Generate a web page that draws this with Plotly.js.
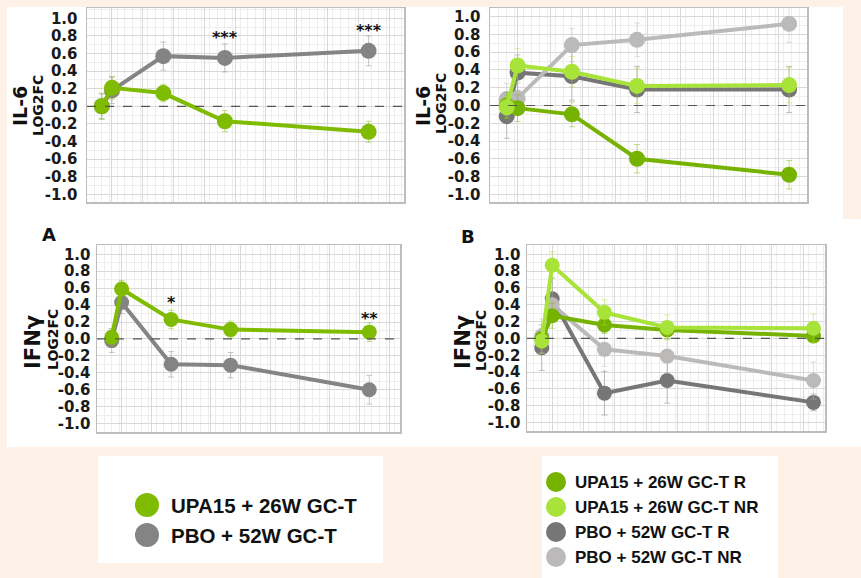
<!DOCTYPE html>
<html>
<head>
<meta charset="utf-8">
<script src="https://cdn.plot.ly/plotly-3.0.1.min.js"></script>
<style>html,body{margin:0;padding:0;background:#fdf1e8;}#chart{width:861px;height:578px;}</style>
</head>
<body>
<div id="chart"></div>
<script>
// ---------- DATA ----------
const weeks = [0, 2, 12, 24, 52];

// Panel A-top: IL-6
const il6Upa = [0.0, 0.21, 0.15, -0.17, -0.29];
const il6UpaErr = [0.15, 0.13, 0.10, 0.12, 0.12];
const il6Pbo = [0.0, 0.18, 0.57, 0.55, 0.63];
const il6PboErr = [0.14, 0.15, 0.16, 0.16, 0.17];

// Panel B-top: IL-6 by response
const il6UpaR = [0.0, -0.03, -0.10, -0.60, -0.78];
const il6UpaRErr = [0.15, 0.15, 0.14, 0.16, 0.16];
const il6UpaNR = [-0.02, 0.45, 0.38, 0.22, 0.23];
const il6UpaNRErr = [0.12, 0.19, 0.17, 0.20, 0.20];
const il6PboR = [-0.12, 0.37, 0.33, 0.18, 0.18];
const il6PboRErr = [0.25, 0.20, 0.27, 0.26, 0.26];
const il6PboNR = [0.07, 0.08, 0.68, 0.74, 0.92];
const il6PboNRErr = [0.18, 0.17, 0.19, 0.19, 0.21];

// Panel A-bottom: IFNγ
const ifnUpa = [0.02, 0.59, 0.23, 0.11, 0.08];
const ifnUpaErr = [0.10, 0.10, 0.11, 0.10, 0.11];
const ifnPbo = [-0.02, 0.43, -0.30, -0.31, -0.60];
const ifnPboErr = [0.14, 0.13, 0.15, 0.15, 0.17];

// Panel B-bottom: IFNγ by response
const ifnUpaR = [0.0, 0.27, 0.16, 0.10, 0.03];
const ifnUpaRErr = [0.12, 0.15, 0.10, 0.10, 0.08];
const ifnUpaNR = [-0.03, 0.87, 0.31, 0.13, 0.12];
const ifnUpaNRErr = [0.15, 0.16, 0.15, 0.15, 0.17];
const ifnPboR = [-0.11, 0.47, -0.65, -0.50, -0.76];
const ifnPboRErr = [0.27, 0.25, 0.26, 0.27, 0.10];
const ifnPboNR = [0.03, 0.40, -0.13, -0.21, -0.50];
const ifnPboNRErr = [0.20, 0.20, 0.20, 0.20, 0.22];

// Significance marks
const il6SigWeeks = [24, 52];
const il6SigLabels = ['***', '***'];
const ifnSigWeeks = [12, 52];
const ifnSigLabels = ['*', '**'];

// Tick labels
const yTickVals = [-1.0, -0.8, -0.6, -0.4, -0.2, 0.0, 0.2, 0.4, 0.6, 0.8, 1.0];
const yTickText = ['-1.0', '-0.8', '-0.6', '-0.4', '-0.2', '0.0', '0.2', '0.4', '0.6', '0.8', '1.0'];

const legendA = ['UPA15 + 26W GC-T', 'PBO + 52W GC-T'];
const legendB = ['UPA15 + 26W GC-T R', 'UPA15 + 26W GC-T NR', 'PBO + 52W GC-T R', 'PBO + 52W GC-T NR'];

// ---------- STYLE ----------
const W = 861, H = 578;
const px = v => v / W;
const py = v => 1 - v / H;
const b = t => '<b>' + t + '</b>';

const C = {
  upa: '#7fbb00', pbo: '#848484',
  upaR: '#76b300', upaNR: '#a8e33a', pboR: '#767676', pboNR: '#bcb9b9'
};
function alpha(hex, a) {
  const r = parseInt(hex.slice(1, 3), 16), g = parseInt(hex.slice(3, 5), 16), bl = parseInt(hex.slice(5, 7), 16);
  return `rgba(${r},${g},${bl},${a})`;
}

function series(xa, ya, y, err, color, msize) {
  return {
    x: weeks, y: y, xaxis: xa, yaxis: ya, type: 'scatter', mode: 'lines+markers',
    line: {color: color, width: 4},
    marker: {color: color, size: msize},
    error_y: {type: 'data', array: err, visible: true, color: alpha(color, 0.45), thickness: 1, width: 3},
    showlegend: false, hoverinfo: 'skip'
  };
}

const traces = [
  series('x', 'y', il6Pbo, il6PboErr, C.pbo, 16),
  series('x', 'y', il6Upa, il6UpaErr, C.upa, 16),
  series('x2', 'y2', il6PboR, il6PboRErr, C.pboR, 16),
  series('x2', 'y2', il6PboNR, il6PboNRErr, C.pboNR, 16),
  series('x2', 'y2', il6UpaR, il6UpaRErr, C.upaR, 16),
  series('x2', 'y2', il6UpaNR, il6UpaNRErr, C.upaNR, 16),
  series('x3', 'y3', ifnPbo, ifnPboErr, C.pbo, 15),
  series('x3', 'y3', ifnUpa, ifnUpaErr, C.upa, 15),
  series('x4', 'y4', ifnPboR, ifnPboRErr, C.pboR, 15),
  series('x4', 'y4', ifnPboNR, ifnPboNRErr, C.pboNR, 15),
  series('x4', 'y4', ifnUpaR, ifnUpaRErr, C.upaR, 15),
  series('x4', 'y4', ifnUpaNR, ifnUpaNRErr, C.upaNR, 15)
];

const tickFont = {family: 'DejaVu Sans', size: 15, color: '#1a1a1a'};

function xAx(l, r, range, anchor) {
  return {
    domain: [px(l), px(r)], range: range, anchor: anchor,
    showticklabels: false, ticks: '', zeroline: false,
    showgrid: true, gridcolor: '#d9d9d9', gridwidth: 1, dtick: 6, tick0: 2,
    minor: {showgrid: true, dtick: 1.5, gridcolor: '#eeeeee', gridwidth: 1},
    showline: true, mirror: true, linecolor: '#bdbdbd', linewidth: 1.5, fixedrange: true
  };
}
function yAx(top, bot, range, anchor, standoff) {
  return {
    domain: [py(bot), py(top)], range: range, anchor: anchor,
    tickmode: 'array', tickvals: yTickVals, ticktext: yTickText.map(b),
    tickfont: tickFont, ticks: 'outside', ticklen: standoff, tickcolor: 'rgba(0,0,0,0)',
    zeroline: false, showgrid: true, gridcolor: '#d9d9d9', gridwidth: 1,
    minor: {showgrid: true, dtick: 0.1, tick0: 0, gridcolor: '#eeeeee', gridwidth: 1},
    showline: true, mirror: true, linecolor: '#bdbdbd', linewidth: 1.5, fixedrange: true
  };
}

const layout = {
  width: W, height: H,
  margin: {l: 0, r: 0, t: 0, b: 0},
  paper_bgcolor: '#fdf1e8', plot_bgcolor: '#ffffff',
  showlegend: false,
  xaxis: xAx(87, 404, [-2.87, 58.9], 'y'),
  yaxis: yAx(8, 202, [-1.088, 1.117], 'x', 5),
  xaxis2: xAx(490, 807, [-3.08, 55.3], 'y2'),
  yaxis2: yAx(8, 202, [-1.087, 1.098], 'x2', 5),
  xaxis3: xAx(97, 400, [-2.97, 58.2], 'y3'),
  yaxis3: yAx(245, 432, [-1.10, 1.11], 'x3', 2),
  xaxis4: xAx(527, 825, [-2.82, 54.2], 'y4'),
  yaxis4: yAx(245, 431, [-1.10, 1.11], 'x4', 2),
  shapes: [],
  annotations: []
};

function rect(x0, y0, x1, y1, fill) {
  return {type: 'rect', xref: 'paper', yref: 'paper', x0: px(x0), x1: px(x1), y0: py(y1), y1: py(y0),
    fillcolor: fill, line: {width: 0}, layer: 'below'};
}
layout.shapes.push(rect(7, 7, 843, 219, '#ffffff'));
layout.shapes.push(rect(7, 219, 861, 447, '#ffffff'));
layout.shapes.push(rect(98, 456, 383, 563, '#ffffff'));
layout.shapes.push(rect(542, 456, 778, 578, '#ffffff'));

['', '2', '3', '4'].forEach(s => {
  layout.shapes.push({type: 'line', xref: 'x' + s + ' domain', yref: 'y' + s, x0: 0, x1: 1, y0: 0, y1: 0,
    line: {color: '#555555', width: 1.2, dash: 'dash'}, layer: 'above'});
});

function vText(text, x, y, size) {
  return {xref: 'paper', yref: 'paper', x: px(x), y: py(y), text: b(text), showarrow: false, textangle: -90,
    xanchor: 'center', yanchor: 'middle', font: {family: 'DejaVu Sans', size: size, color: '#111'}};
}
layout.annotations.push(vText('IL-6', 20, 106, 19));
layout.annotations.push(vText('LOG2FC', 38, 106, 14));
layout.annotations.push(vText('IL-6', 423, 106, 19));
layout.annotations.push(vText('LOG2FC', 441, 104, 14));
layout.annotations.push(vText('IFNγ', 33, 342, 21));
layout.annotations.push(vText('LOG2FC', 53, 340, 14));
layout.annotations.push(vText('IFNγ', 463, 342, 21));
layout.annotations.push(vText('LOG2FC', 481, 340, 14));

layout.annotations.push({xref: 'paper', yref: 'paper', x: px(40), y: py(234), text: b('A'), showarrow: false,
  font: {family: 'DejaVu Sans', size: 18, color: '#111'}});
layout.annotations.push({xref: 'paper', yref: 'paper', x: px(468), y: py(236), text: b('B'), showarrow: false,
  font: {family: 'DejaVu Sans', size: 18, color: '#111'}});

function sigMarks(sWeeks, labels, seriesList, xa, ya, gap) {
  sWeeks.forEach((w, k) => {
    const i = weeks.indexOf(w);
    let top = -Infinity;
    seriesList.forEach(([v, e]) => { top = Math.max(top, v[i] + e[i]); });
    layout.annotations.push({xref: xa, yref: ya, x: w, y: top + gap[k], text: b(labels[k]), showarrow: false,
      xanchor: 'center', yanchor: 'middle', font: {family: 'DejaVu Sans', size: 16, color: '#111'}});
  });
}
sigMarks(il6SigWeeks, il6SigLabels, [[il6Upa, il6UpaErr], [il6Pbo, il6PboErr]], 'x', 'y', [0.07, 0.06]);
sigMarks(ifnSigWeeks, ifnSigLabels, [[ifnUpa, ifnUpaErr], [ifnPbo, ifnPboErr]], 'x3', 'y3', [0.09, 0.05]);

function legendItem(cx, cy, r, color, text, tx, size) {
  layout.shapes.push({type: 'circle', xref: 'paper', yref: 'paper', x0: px(cx - r), x1: px(cx + r),
    y0: py(cy + r), y1: py(cy - r), fillcolor: color, line: {width: 0}, layer: 'above'});
  layout.annotations.push({xref: 'paper', yref: 'paper', x: px(tx), y: py(cy), text: b(text), showarrow: false,
    xanchor: 'left', yanchor: 'middle',
    font: {family: 'Liberation Sans', size: size, color: '#111'}});
}
const legAColors = [C.upa, C.pbo];
legendA.forEach((t, i) => legendItem(147, 505 + 30 * i, 12, legAColors[i], t, 169, 20.5));
const legBColors = [C.upaR, C.upaNR, C.pboR, C.pboNR];
legendB.forEach((t, i) => legendItem(556, 482 + 25 * i, 10, legBColors[i], t, 573, 17));

Plotly.newPlot('chart', traces, layout, {staticPlot: true, displayModeBar: false});
</script>
</body>
</html>
